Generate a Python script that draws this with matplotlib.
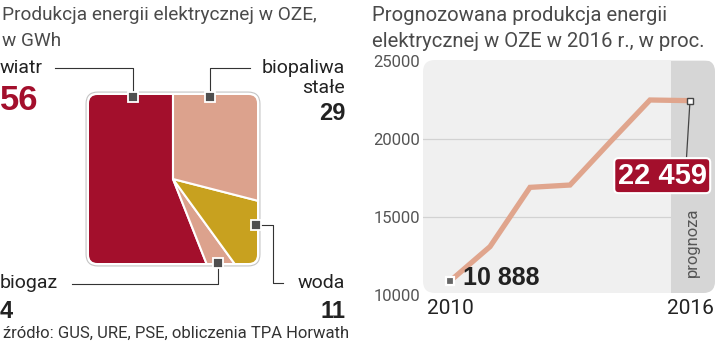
import matplotlib
matplotlib.use('Agg')
import matplotlib.pyplot as plt
from matplotlib.patches import FancyBboxPatch

W, H = 720, 347

# renewable electricity mix, GWh
sources = ['wiatr', 'biogaz', 'woda', 'biopaliwa\nstałe']
shares = [56, 4, 11, 29]
share_colors = ['#a30f2c', '#dca28d', '#c8a11f', '#dca28d']

# forecast production
years = [2010, 2011, 2012, 2013, 2014, 2015, 2016]
production = [10888, 13100, 16900, 17050, 19800, 22500, 22459]
y_ticks = [10000, 15000, 20000, 25000]
x_ticks = [2010, 2016]
forecast_from = 2015.52

RED = '#a30f2c'
LINE = '#e0a58d'
DARK = '#222222'
GREY = '#555555'

plt.rcParams['font.family'] = ['Roboto', 'DejaVu Sans']
BOLD = ['Liberation Sans', 'DejaVu Sans']


def box(x0, y0, x1, y1):
    # pixel box, top-left origin -> figure fraction rect
    return [x0 / W, 1 - y1 / H, (x1 - x0) / W, (y1 - y0) / H]


def fmt(v):
    return f'{v:,}'.replace(',', ' ')


fig = plt.figure(figsize=(W / 100, H / 100), dpi=100)

# background layer in pixels
bg = fig.add_axes([0, 0, 1, 1], zorder=0)
bg.set_xlim(0, W)
bg.set_ylim(H, 0)
bg.axis('off')

# ---- pie squeezed into a rounded square ----
pa = fig.add_axes(box(89, 95, 257, 263), zorder=1)
wedges, _ = pa.pie(shares, colors=share_colors, startangle=90, counterclock=True,
                   radius=1.6, wedgeprops=dict(edgecolor='white', linewidth=1.5))
pa.set_xlim(-1, 1)
pa.set_ylim(-1, 1)
pa.axis('off')
outer = FancyBboxPatch((-1.035, -1.035), 2.07, 2.07,
                       boxstyle='round,pad=0,rounding_size=0.14',
                       fc='white', ec='#c4c4c4', lw=0.8, zorder=0, clip_on=False)
pa.add_patch(outer)
inner = FancyBboxPatch((-1, -1), 2, 2, boxstyle='round,pad=0,rounding_size=0.1',
                       fc='none', ec='none')
pa.add_patch(inner)
for w in wedges:
    w.set_clip_on(True)
    w.set_clip_path(inner)

# ---- line chart ----
panel = FancyBboxPatch((423, 60), 292, 233, boxstyle='round,pad=0,rounding_size=12',
                       fc='#f0f0f0', ec='none')
bg.add_patch(panel)

ax = fig.add_axes(box(423, 61, 715, 295), zorder=1)
ax.patch.set_visible(False)
ax.set_xlim(2009.325, 2016.625)
ax.set_ylim(10000, 25000)
for s in ax.spines.values():
    s.set_visible(False)

band = ax.axvspan(forecast_from, 2016.625, color='#d6d6d6', zorder=1, lw=0)
band.set_clip_path(panel)
for t in y_ticks[1:-1]:
    ax.axhline(t, color='#d2d2d2', lw=0.9, zorder=0.5)

ax.plot(years, production, color=LINE, lw=3.8, zorder=3,
        solid_joinstyle='miter', solid_capstyle='butt')
ax.plot(years[0], production[0], 's', ms=6, mfc='#666666', mec='white', mew=1.6, zorder=4)
ax.plot(years[-1], production[-1], 's', ms=4.5, mfc='white', mec='#444444', mew=1.0, zorder=4)

ax.annotate(fmt(production[0]), xy=(years[0], production[0]), xytext=(9.5, 2),
            textcoords='offset points', ha='left', va='center',
            fontsize=18, fontweight='bold', family=BOLD, color=DARK, zorder=5)
ax.annotate(fmt(production[-1]), xy=(years[-1], production[-1]), xytext=(-20, -54),
            textcoords='offset points', ha='center', va='center',
            fontsize=21, fontweight='bold', family=BOLD, color='white', zorder=5,
            bbox=dict(boxstyle='round,pad=0.12,rounding_size=0.15', fc=RED, ec='white', lw=1.5),
            arrowprops=dict(arrowstyle='-', color='#444444', lw=0.9, relpos=(0.77, 1),
                            shrinkA=0, shrinkB=3))

ax.set_yticks(y_ticks)
ax.set_yticklabels([str(t) for t in y_ticks], fontsize=12, color=GREY)
ax.set_xticks(x_ticks)
ax.set_xticklabels([str(t) for t in x_ticks], fontsize=15, color=DARK)
ax.tick_params(axis='y', length=0, pad=2)
ax.tick_params(axis='x', length=0, pad=3)

# ---- labels and leaders on top ----
ov = fig.add_axes([0, 0, 1, 1], zorder=3)
ov.set_xlim(0, W)
ov.set_ylim(H, 0)
ov.axis('off')

title_kw = dict(color='#4a4a4a', ha='left', va='center')
bg.text(2, 15, 'Produkcja energii elektrycznej w OZE,', fontsize=13.7, **title_kw)
bg.text(2, 41, 'w GWh', fontsize=13.7, **title_kw)
bg.text(372, 15, 'Prognozowana produkcja energii', fontsize=14.6, **title_kw)
bg.text(372, 41, 'elektrycznej w OZE w 2016 r., w proc.', fontsize=14.6, **title_kw)

# leader paths start at the marker sitting on the square
leaders = [
    ([133, 133, 55], [97, 68, 68]),
    ([218, 218, 72], [263, 284, 284]),
    ([256, 273, 273, 283], [225, 225, 283, 283]),
    ([210, 210, 250], [97, 68, 68]),
]
for xs, ys in leaders:
    ov.plot(xs, ys, color='#333333', lw=0.8, zorder=1)
    ov.plot(xs[0], ys[0], 's', ms=7.5, mfc='#4f4f4f', mec='white', mew=1.3, zorder=2)

name_kw = dict(fontsize=14, color=DARK, va='center')
num_kw = dict(fontweight='bold', family=BOLD, color=DARK, va='center')

ov.text(0, 68, sources[0], ha='left', **name_kw)
ov.text(0, 100, str(shares[0]), ha='left', fontsize=25, fontweight='bold',
        family=BOLD, color=RED, va='center')
ov.text(0, 283, sources[1], ha='left', **name_kw)
ov.text(0, 311, str(shares[1]), ha='left', fontsize=17, **num_kw)
ov.text(345, 283, sources[2], ha='right', **name_kw)
ov.text(345, 311, str(shares[2]), ha='right', fontsize=17, **num_kw)
top, bottom = sources[3].split('\n')
ov.text(345, 68, top, ha='right', **name_kw)
ov.text(345, 88, bottom, ha='right', **name_kw)
ov.text(345, 113, str(shares[3]), ha='right', fontsize=17, **num_kw)

ov.text(692, 242, 'prognoza', rotation=90, ha='center', va='center',
        fontsize=12, color=GREY)
ov.text(3, 333, 'źródło: GUS, URE, PSE, obliczenia TPA Horwath', ha='left',
        va='center', fontsize=12, color='#333333')

fig.savefig('out.png', dpi=100)
